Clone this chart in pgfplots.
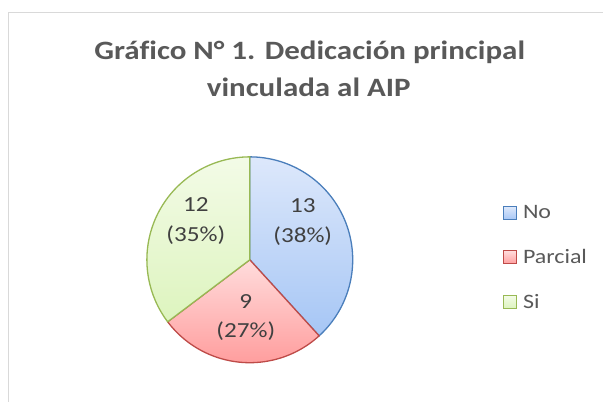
\documentclass[border=0pt]{standalone}
\usepackage{fontspec}
\setmainfont{Carlito}[FakeStretch=1.17, Ligatures=NoCommon]
\usepackage{pgfplots}
\usepackage{pgfplotstable}
\pgfplotsset{compat=1.18}
\definecolor{titlegray}{HTML}{595959}
\definecolor{labgray}{HTML}{404040}
\definecolor{framegray}{HTML}{D9D9D9}
\definecolor{bluetop}{HTML}{DDE8FB}
\definecolor{bluebot}{HTML}{A6C6F5}
\definecolor{blueline}{HTML}{4A7EBB}
\definecolor{redtop}{HTML}{FFDCDC}
\definecolor{redbot}{HTML}{FF9E9E}
\definecolor{redline}{HTML}{BE4B48}
\definecolor{greentop}{HTML}{F3FBE7}
\definecolor{greenbot}{HTML}{DDF4BE}
\definecolor{greenline}{HTML}{98B954}
\pgfplotstableread{
label value
No 13
Parcial 9
Si 12
}\piedata
\pgfplotstablegetelem{0}{value}\of\piedata \let\vNo\pgfplotsretval
\pgfplotstablegetelem{1}{value}\of\piedata \let\vPar\pgfplotsretval
\pgfplotstablegetelem{2}{value}\of\piedata \let\vSi\pgfplotsretval
\pgfmathsetmacro{\tot}{\vNo+\vPar+\vSi}
\pgfmathsetmacro{\aA}{90}
\pgfmathsetmacro{\aB}{90-360*\vNo/\tot}
\pgfmathsetmacro{\aC}{\aB-360*\vPar/\tot}
\pgfmathsetmacro{\aD}{\aC-360*\vSi/\tot}
\def\cx{250}\def\cy{142}\def\rr{103}
\begin{document}
\begin{tikzpicture}
\begin{axis}[
  width=603bp, height=402bp, scale only axis,
  xmin=0, xmax=603, ymin=0, ymax=402,
  hide axis, clip=false,
  legend style={at={(axis cs:503,144)}, anchor=west, draw=none, fill=none,
    font=\fontsize{20.5bp}{24bp}\selectfont, text=titlegray,
    row sep=25bp, inner sep=0pt, cells={anchor=west}},
  legend image code/.code={\draw[#1, line width=1.2bp] (0bp,-6.5bp) rectangle (13bp,6.5bp); \path (17bp,0bp);},
]
\path (axis cs:0,0) rectangle (axis cs:603,402);
\draw[framegray, line width=1bp] (axis cs:9,0) -- (axis cs:9,389) -- (axis cs:603,389);

\addplot[draw=blueline, line width=1.3bp, top color=bluetop, bottom color=bluebot, domain=\aB:\aA, samples=90, smooth]
  ({\cx+\rr*cos(x)},{\cy+\rr*sin(x)}) -- (axis cs:\cx,\cy) -- cycle;
\addlegendentry{No}
\addplot[draw=redline, line width=1.3bp, top color=redtop, bottom color=redbot, domain=\aC:\aB, samples=90, smooth]
  ({\cx+\rr*cos(x)},{\cy+\rr*sin(x)}) -- (axis cs:\cx,\cy) -- cycle;
\addlegendentry{Parcial}
\addplot[draw=greenline, line width=1.3bp, top color=greentop, bottom color=greenbot, domain=\aD:\aC, samples=90, smooth]
  ({\cx+\rr*cos(x)},{\cy+\rr*sin(x)}) -- (axis cs:\cx,\cy) -- cycle;
\addlegendentry{Si}

\node[anchor=base, text=titlegray, font=\bfseries\fontsize{26.5bp}{30bp}\selectfont] at (axis cs:310,342) {Gráfico N° 1. Dedicación principal};
\node[anchor=base, text=titlegray, font=\bfseries\fontsize{26.5bp}{30bp}\selectfont] at (axis cs:309,305) {vinculada al AIP};

\tikzset{dl/.style={anchor=base, text=labgray, font=\fontsize{21.5bp}{26bp}\selectfont}}
\node[dl] at (axis cs:303,189) {13};
\node[dl] at (axis cs:303,159) {(38\%)};
\node[dl] at (axis cs:196,190) {12};
\node[dl] at (axis cs:196,160) {(35\%)};
\node[dl] at (axis cs:246,93) {9};
\node[dl] at (axis cs:246,64) {(27\%)};
\end{axis}
\end{tikzpicture}
\end{document}
